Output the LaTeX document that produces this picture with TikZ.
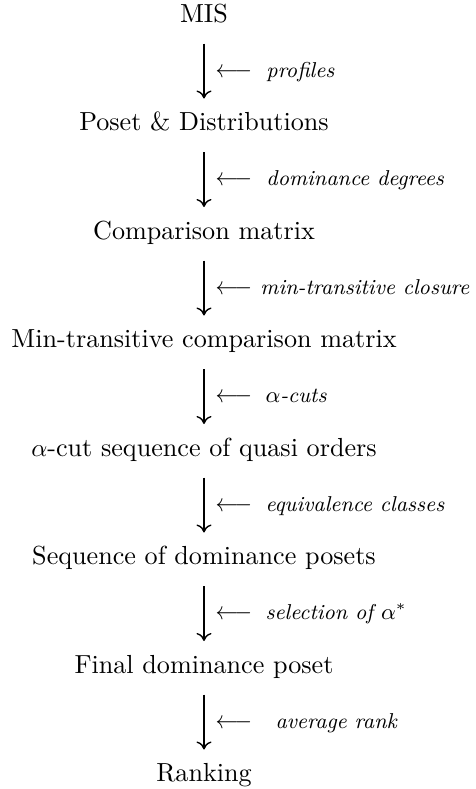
\documentclass[tikz,border=0pt]{standalone}
\usetikzlibrary{arrows.meta}
\begin{document}
\begin{tikzpicture}[x=0.4pt,y=-0.4pt,
  every node/.style={font=\fontsize{10.45pt}{12.5pt}\selectfont},
  stage/.style={anchor=base,inner sep=0pt},
  flow/.style={line width=0.55pt,-{Computer Modern Rightarrow[length=3.2pt,width=6pt]}},
  larr/.style={anchor=base east,inner sep=0pt},
  lab/.style={anchor=base west,inner sep=0pt,font=\fontsize{8.6pt}{10pt}\selectfont\itshape}]
\useasboundingbox (0,0) rectangle (475,789);
\def\cx{204}
\node[stage] (n1) at (\cx,22) {MIS};
\node[stage] (n2) at (\cx,130.5) {Poset \& Distributions};
\node[stage] (n3) at (\cx,239) {Comparison matrix};
\node[stage] (n4) at (\cx,347.5) {Min-transitive comparison matrix};
\node[stage] (n5) at (\cx,456) {$\alpha$-cut sequence of quasi orders};
\node[stage] (n6) at (\cx,564.5) {Sequence of dominance posets};
\node[stage] (n7) at (\cx,673) {Final dominance poset};
\node[stage] (n8) at (\cx,781.5) {Ranking};
\foreach \a/\b/\t/\g in {n1/n2/profiles/266,n2/n3/dominance degrees/266,n3/n4/min-transitive closure/260,n4/n5/$\alpha$-cuts/265,n5/n6/equivalence classes/265,n6/n7/selection of $\alpha^*$/265,n7/n8/average rank/275}{
  \draw[flow] ([yshift=-8.6pt]\a.base) -- ([yshift=12.8pt]\b.base);
  \path ([yshift=-22.1pt]\a.base) coordinate (c\a);
  \node[larr] (r\a) at (c\a -| 252.5,0) {\scalebox{0.9}[1]{$\longleftarrow$}};
  \node[lab] (l\a) at (c\a -| \g,0) {\t};
}
\end{tikzpicture}
\end{document}
